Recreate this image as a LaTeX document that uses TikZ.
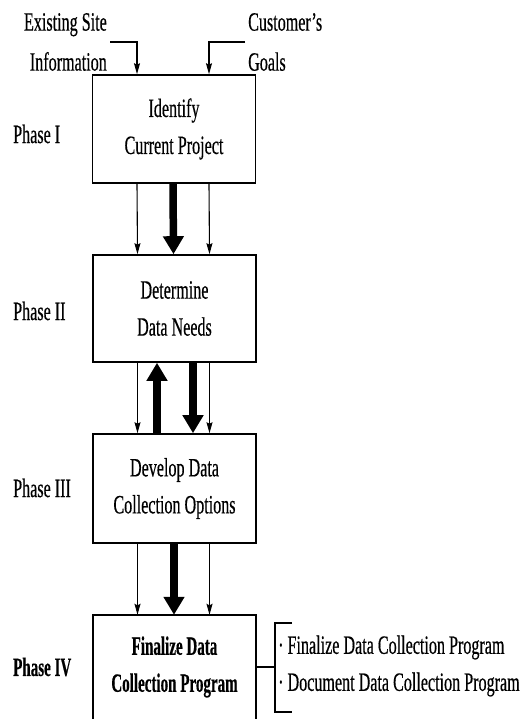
\documentclass[tikz,border=0pt]{standalone}
\usepackage{fontspec}
\setmainfont{Liberation Serif}[FakeStretch=0.61, FakeBold=0.4, BoldFeatures={FakeStretch=0.57}]
\usetikzlibrary{arrows.meta}
\tikzset{
  every node/.style={font=\fontsize{26.4}{37}\selectfont},
  box/.style={draw, line width=1.6pt, minimum width=163pt, inner sep=0pt, align=center},
  openbox/.style={minimum width=163pt, inner sep=0pt, align=center},
  phase/.style={anchor=west, inner sep=0pt},
  thinarrow/.style={line width=1.1pt, -{Stealth[length=11pt,width=6pt,inset=1.5pt]}},
  thickarrow/.style={line width=7.5pt, -{Triangle[length=18pt,width=20pt]}},
  plain/.style={line width=1.1pt},
}
\begin{document}
\begin{tikzpicture}[x=1pt,y=-1pt]
\useasboundingbox[fill=white] (0,0) rectangle (524,719);

% inputs
\node[anchor=east, align=right, inner sep=3pt, font=\fontsize{26.4}{40}\selectfont] (esi) at (110,42) {Existing Site\\Information};
\node[anchor=west, align=left, inner sep=3pt, font=\fontsize{26.4}{40}\selectfont] (cg) at (245,42) {Customer's\\Goals};

% boxes
\node[box, minimum height=108pt] (b1) at (174,129) {Identify\\Current Project};
\node[box, minimum height=107pt] (b2) at (174.5,308.5) {Determine\\Data Needs};
\node[box, minimum height=109pt] (b3) at (174.5,488.5) {Develop Data\\Collection Options};
\node[openbox, minimum height=104pt, font=\fontsize{26.4}{37}\selectfont\bfseries] (b4) at (174.5,667) {Finalize Data\\Collection Program};
\draw[line width=1.6pt] (b4.south west) -- (b4.north west) -- (b4.north east) -- (b4.south east);

% phase labels
\node[phase] (p1) at (13,134) {Phase I};
\node[phase] (p2) at (13,311) {Phase II};
\node[phase] (p3) at (13,488) {Phase III};
\node[phase, font=\fontsize{26.4}{37}\selectfont\bfseries] (p4) at (13,667) {Phase IV};

% input arrows
\draw[thinarrow] (esi.east) -| ([xshift=-37pt]b1.north);
\draw[thinarrow] (cg.west) -| ([xshift=35pt]b1.north);

% b1 -> b2
\draw[thinarrow] ([xshift=-37pt]b1.south) -- ([xshift=-37pt]b2.north);
\draw[thinarrow] ([xshift=35pt]b1.south) -- ([xshift=35pt]b2.north);
\draw[thickarrow] ([xshift=-1pt]b1.south) -- ([xshift=-1pt]b2.north);

% b2 <-> b3
\draw[thinarrow] ([xshift=-37pt]b2.south) -- ([xshift=-37pt]b3.north);
\draw[thinarrow] ([xshift=35pt]b2.south) -- ([xshift=35pt]b3.north);
\draw[thickarrow] ([xshift=-17.5pt]b3.north) -- ([xshift=-17.5pt]b2.south);
\draw[thickarrow] ([xshift=18.5pt]b2.south) -- ([xshift=18.5pt]b3.north);

% b3 -> b4
\draw[thinarrow] ([xshift=-37pt]b3.south) -- ([xshift=-37pt]b4.north);
\draw[thinarrow] ([xshift=35pt]b3.south) -- ([xshift=35pt]b4.north);
\draw[thickarrow] ([xshift=-0.5pt]b3.south) -- ([xshift=-0.5pt]b4.north);

% bracket with items
\coordinate (brk) at (275,667);
\draw[plain] (b4.east) -- (brk);
\draw[line width=1.4pt] ([shift={(17,-44)}]brk) -- ([shift={(0,-44)}]brk) -- ([shift={(0,45)}]brk) -- ([shift={(17,45)}]brk);
\node[anchor=west, align=left, inner sep=0pt] (items) at (278,666) {·\hspace{4pt}Finalize Data Collection Program\\·\hspace{4pt}Document Data Collection Program};
\end{tikzpicture}
\end{document}
